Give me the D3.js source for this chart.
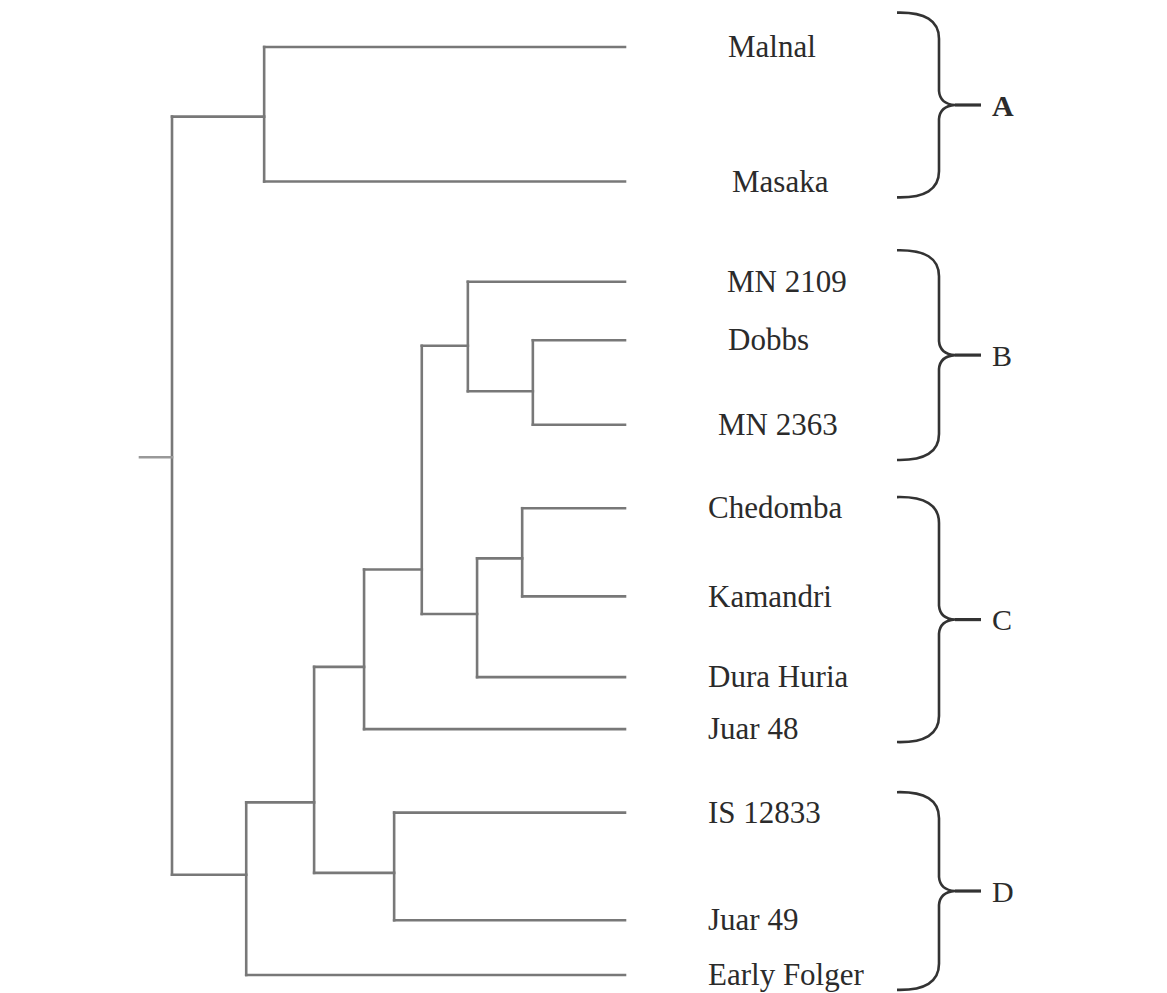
<!DOCTYPE html>
<html>
<head>
<meta charset="utf-8">
<script src="https://cdn.jsdelivr.net/npm/d3@7"></script>
<style>
  html, body { margin: 0; padding: 0; background: #fff; }
  svg { display: block; }
</style>
</head>
<body>
<div id="chart"></div>
<script>
// Cultivars (leaves) in drawing order, with their vertical position (0 = top, 100 = bottom)
const leaves = ["Malnal", "Masaka", "MN 2109", "Dobbs", "MN 2363", "Chedomba",
                "Kamandri", "Dura Huria", "Juar 48", "IS 12833", "Juar 49", "Early Folger"];
const leafPos = [0, 14.5, 25.3, 31.6, 40.7, 49.7, 59.2, 67.9, 73.5, 82.5, 94.1, 100];

// Internal clusters: id, children, linkage distance, vertical position of the stem
const nodeIds      = ["root", "A", "R1", "R2", "D1", "R3", "R4", "B", "B2", "C", "C2"];
const nodeChildren = [["A", "R1"], ["Malnal", "Masaka"], ["R2", "Early Folger"], ["R3", "D1"],
                      ["IS 12833", "Juar 49"], ["R4", "Juar 48"], ["B", "C"], ["MN 2109", "B2"],
                      ["Dobbs", "MN 2363"], ["C2", "Dura Huria"], ["Chedomba", "Kamandri"]];
const nodeHeight   = [0.934, 0.744, 0.781, 0.641, 0.476, 0.538, 0.419, 0.324, 0.190, 0.305, 0.212];
const nodeStem     = [44.2, 7.5, 89.2, 81.4, 89.0, 66.8, 56.3, 32.2, 37.1, 61.1, 55.1];

// Group braces: letter, start and end (same vertical units as leaves)
const groupNames = ["A", "B", "C", "D"];
const groupStart = [-3.7, 21.9, 48.5, 80.3];
const groupEnd   = [16.2, 44.5, 74.9, 101.6];

const W = 1167, H = 993;
const svg = d3.select("#chart").append("svg").attr("width", W).attr("height", H);

// Build the nested tree from the arrays
const childMap = new Map(nodeIds.map((id, i) => [id, i]));
function build(id) {
  if (childMap.has(id)) {
    const i = childMap.get(id);
    return { name: id, h: nodeHeight[i], stem: nodeStem[i], children: nodeChildren[i].map(build) };
  }
  return { name: id, h: 0, stem: leafPos[leaves.indexOf(id)], leaf: true };
}
const root = d3.hierarchy(build("root"));

const x = d3.scaleLinear().domain([0, 1]).range([625, 140]);
const y = d3.scaleLinear().domain([0, 100]).range([47, 975]);

const g = svg.append("g")
  .attr("fill", "none")
  .attr("stroke", "#787878")
  .attr("stroke-width", 2.6)
  .attr("stroke-linecap", "square");

// horizontal branches
g.selectAll("path.h")
  .data(root.descendants().filter(d => d.parent))
  .join("path")
  .attr("class", "h")
  .attr("d", d => `M${x(d.parent.data.h)},${y(d.data.stem)}H${x(d.data.h)}`);

// vertical joins
g.selectAll("path.v")
  .data(root.descendants().filter(d => d.children))
  .join("path")
  .attr("class", "v")
  .attr("d", d => {
    const ys = d.children.map(c => y(c.data.stem));
    return `M${x(d.data.h)},${d3.min(ys)}V${d3.max(ys)}`;
  });

// root stem
g.append("path")
  .attr("d", `M${x(1)},${y(root.data.stem)}H${x(root.data.h)}`)
  .attr("stroke", "#999");

// leaf labels
const indent = { "Malnal": 20, "Masaka": 24, "MN 2109": 19, "Dobbs": 20, "MN 2363": 10 };
svg.append("g")
  .attr("font-family", "'Liberation Serif', 'Times New Roman', serif")
  .attr("font-size", 31)
  .attr("fill", "#2b2b2b")
  .selectAll("text")
  .data(root.leaves())
  .join("text")
  .attr("x", d => 708 + (indent[d.data.name] || 0))
  .attr("y", d => y(d.data.stem))
  .attr("dy", "0.33em")
  .text(d => d.data.name);

// curly braces for the groups
function bracePath(y0, y1, xv) {
  const p = d3.path();
  const tip = xv - 42, r = 26, mid = (y0 + y1) / 2;
  p.moveTo(tip, y0);
  p.quadraticCurveTo(xv, y0 - 1, xv, y0 + r);
  p.lineTo(xv, mid - 14);
  p.quadraticCurveTo(xv + 1, mid - 1, xv + 16, mid);
  p.quadraticCurveTo(xv + 1, mid + 1, xv, mid + 14);
  p.lineTo(xv, y1 - r);
  p.quadraticCurveTo(xv, y1 + 1, tip, y1);
  return p.toString();
}
const groups = groupNames.map((n, i) => ({ name: n, y0: y(groupStart[i]), y1: y(groupEnd[i]) }));
const bg = svg.append("g").selectAll("g").data(groups).join("g");
bg.append("path")
  .attr("d", d => bracePath(d.y0, d.y1, 939))
  .attr("fill", "none")
  .attr("stroke", "#333")
  .attr("stroke-width", 2.6);
bg.append("path")
  .attr("d", d => `M${955},${(d.y0 + d.y1) / 2}H${981}`)
  .attr("stroke", "#333")
  .attr("stroke-width", 3.2);
bg.append("text")
  .attr("x", 992)
  .attr("y", d => (d.y0 + d.y1) / 2)
  .attr("dy", "0.36em")
  .attr("font-family", "'Liberation Serif', 'Times New Roman', serif")
  .attr("font-size", 30)
  .attr("font-weight", d => d.name === "A" ? "bold" : "normal")
  .attr("fill", "#2b2b2b")
  .text(d => d.name);
</script>
</body>
</html>
